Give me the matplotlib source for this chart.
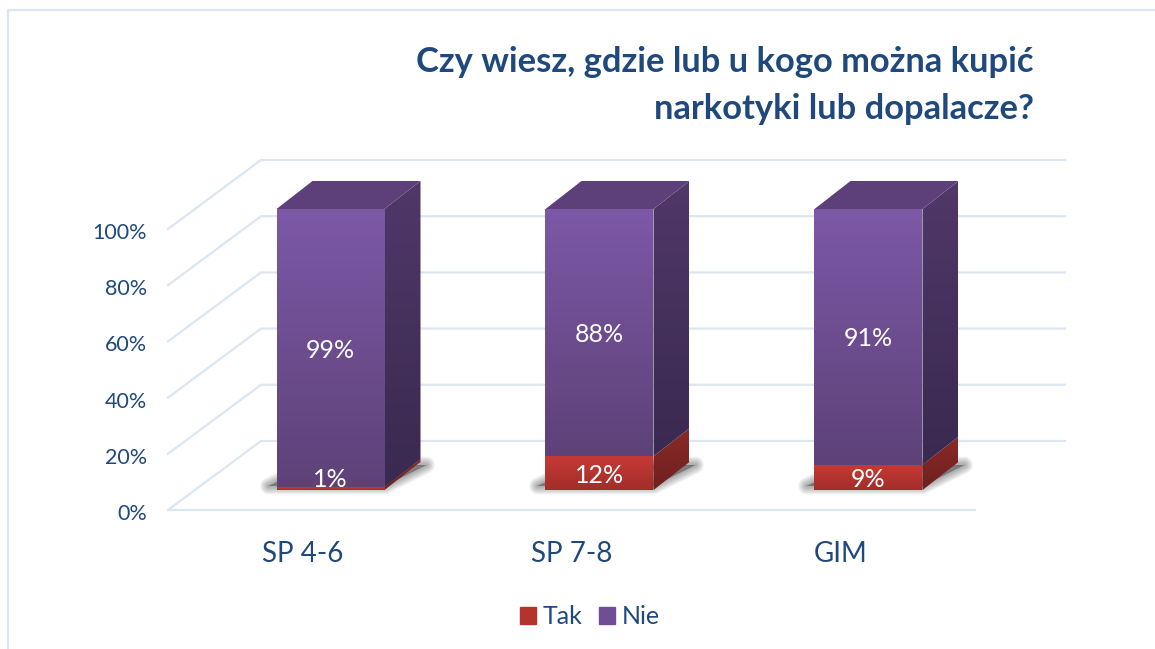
import numpy as np
import matplotlib.pyplot as plt
from matplotlib.lines import Line2D
from matplotlib.patches import Patch, Polygon
from matplotlib.colors import LinearSegmentedColormap
from matplotlib.transforms import ScaledTranslation

plt.rcParams['font.family'] = ['Lato', 'DejaVu Sans']

categories = ['SP 4-6', 'SP 7-8', 'GIM']
tak = [1, 12, 9]
nie = [99, 88, 91]
y_ticks = [0, 20, 40, 60, 80, 100]
y_labels = ['0%', '20%', '40%', '60%', '80%', '100%']
title = 'Czy wiesz, gdzie lub u kogo można kupić\nnarkotyki lub dopalacze?'

TEXT = '#1F497D'
GRID = '#DCE6F2'
W, H = 1155, 649

fig = plt.figure(figsize=(W / 100, H / 100), dpi=100)
ax = fig.add_axes([168 / W, 1 - 510 / H, 807 / W, 281 / H])
ax.set_xlim(-0.5, 2.5)
ax.set_ylim(0, 100)
for s in ax.spines.values():
    s.set_visible(False)

# pixels to axis units, the fake 3d is all offsets from the front plane
ux = 1 / 269
uy = 100 / 281
wall_dx, wall_dy = 93 * ux, 69 * uy
gap_dx, gap_dy = 28 * ux, 20 * uy
bar_dx, bar_dy = 36 * ux, 28 * uy
half_w = 54 * ux


def gradient(pts, c1, c2, z):
    # vertical gradient c1 (top) to c2 (bottom) clipped to a polygon
    pts = np.array(pts)
    poly = Polygon(pts, closed=True, fc='none', ec='none', zorder=z, clip_on=False)
    ax.add_patch(poly)
    cmap = LinearSegmentedColormap.from_list('g', [c1, c2])
    ext = [pts[:, 0].min(), pts[:, 0].max(), pts[:, 1].min(), pts[:, 1].max()]
    im = ax.imshow(np.linspace(0, 1, 128).reshape(-1, 1), cmap=cmap, extent=ext,
                   aspect='auto', origin='upper', zorder=z, interpolation='bilinear')
    im.set_clip_box(fig.bbox)
    im.set_clip_path(poly)


# walls and floor
x0, x1 = ax.get_xlim()
for v in y_ticks:
    ax.plot([x0, x0 + wall_dx, x1 + wall_dx - 3 * ux], [v, v + wall_dy, v + wall_dy],
            color=GRID, lw=1.6, clip_on=False, zorder=1)
ax.plot([x0, x1], [0, 0], color=GRID, lw=1.6, clip_on=False, zorder=1)

for i in range(len(categories)):
    l = i + gap_dx - half_w
    r = i + gap_dx + half_w
    b = gap_dy
    m = b + tak[i]
    t = m + nie[i]

    # soft floor shadow, stacked strokes fade it out
    shadow = [(l - 8 * ux, b + 4 * uy), (r, b + 4 * uy), (r + bar_dx + 6 * ux, b + bar_dy - 3 * uy),
              (l + bar_dx, b + bar_dy - 3 * uy)]
    for lw in [12, 10, 8, 6, 4, 2]:
        ax.add_patch(Polygon(shadow, closed=True, fc='#000000', ec='#000000', lw=lw,
                             alpha=0.06, zorder=2, clip_on=False, joinstyle='round'))

    # side faces
    gradient([(r, b), (r + bar_dx, b + bar_dy), (r + bar_dx, m + bar_dy), (r, m)],
             '#8A2A28', '#6E201F', 3)
    gradient([(r, m), (r + bar_dx, m + bar_dy), (r + bar_dx, t + bar_dy), (r, t)],
             '#503869', '#3A2950', 3)
    # top
    ax.add_patch(Polygon([(l, t), (r, t), (r + bar_dx, t + bar_dy), (l + bar_dx, t + bar_dy)],
                         closed=True, fc='#5D4079', ec='none', zorder=3, clip_on=False))
    # front faces
    gradient([(l, b), (r, b), (r, m), (l, m)], '#C63A36', '#A32D2A', 4)
    gradient([(l, m), (r, m), (r, t), (l, t)], '#7D58A7', '#5D4278', 4)

    cx = i + gap_dx
    ax.text(cx, b + max(tak[i] / 2, 4.5) - 2 * uy, '%d%%' % tak[i], color='white', fontsize=18,
            ha='center', va='center', zorder=5, clip_on=False)
    ax.text(cx, m + nie[i] / 2 - 2 * uy, '%d%%' % nie[i], color='white', fontsize=18,
            ha='center', va='center', zorder=5, clip_on=False)

ax.set_xlim(x0, x1)
ax.set_ylim(0, 100)
ax.set_xticks(range(len(categories)), categories)
ax.set_yticks(y_ticks, y_labels)
ax.tick_params(axis='x', length=0, pad=22, labelsize=20, labelcolor=TEXT)
ax.tick_params(axis='y', length=0, pad=15, labelsize=15.5, labelcolor=TEXT)
for lab in ax.get_yticklabels():
    lab.set_transform(lab.get_transform() + ScaledTranslation(0, -1.5 / 72, fig.dpi_scale_trans))

fig.text(1034 / W, 1 - 46 / H, title, ha='right', va='top', color=TEXT, fontsize=24.8,
         fontweight='bold', linespacing=1.58)

handles = [Patch(color='#B5332F', label='Tak'), Patch(color='#6F4E96', label='Nie')]
fig.legend(handles=handles, ncols=2, frameon=False, loc='center',
           bbox_to_anchor=(590 / W, 1 - 617 / H), fontsize=18, labelcolor=TEXT,
           handlelength=0.64, handleheight=0.64, handletextpad=0.26, columnspacing=0.68)

# chart area border, only left and top are in the picture
fig.add_artist(Line2D([8 / W, 8 / W, 1], [0, 1 - 10 / H, 1 - 10 / H], color=GRID, lw=1.6))

fig.savefig('out.png', dpi=100)
